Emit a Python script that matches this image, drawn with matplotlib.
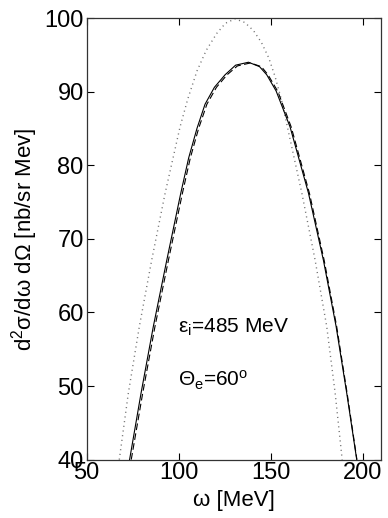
import matplotlib
matplotlib.use("Agg")
import matplotlib.pyplot as plt

plt.rcParams['font.family'] = ['Liberation Sans', 'DejaVu Sans']
plt.rcParams['mathtext.fontset'] = 'custom'
plt.rcParams['mathtext.rm'] = 'Liberation Sans'
plt.rcParams['mathtext.it'] = 'Liberation Sans'

# solid curve
omega_solid = [73.4, 79.6, 86.3, 93.6, 101.2, 105.5, 110.0, 114.4, 119.5, 125.3, 131.0, 138.0,
               144.0, 147.9, 153.0, 160.6, 170.6, 178.7, 185.6, 191.4, 196.8]
xs_solid = [40.0, 49.0, 58.1, 67.1, 76.2, 81.0, 85.0, 88.3, 90.6, 92.3, 93.6, 94.0,
            93.4, 92.3, 90.1, 85.2, 76.2, 67.1, 58.1, 49.0, 40.0]
# dashed curve
omega_dashed = [74.3, 80.5, 87.2, 94.5, 102.1, 106.4, 110.9, 115.4, 120.6, 126.4, 132.0, 139.0,
                145.0, 148.6, 154.0, 161.2, 171.1, 179.1, 185.9, 191.6, 196.9]
xs_dashed = [40.0, 49.0, 58.1, 67.1, 76.2, 81.0, 85.0, 88.3, 90.6, 92.3, 93.5, 93.9,
             93.4, 92.3, 90.0, 85.2, 76.2, 67.1, 58.1, 49.0, 40.0]
# dotted curve
omega_dotted = [67.8, 72.7, 78.7, 85.4, 92.7, 100.8, 105.0, 110.0, 115.0, 120.7, 125.5, 130.7,
                136.0, 140.7, 145.0, 149.0, 152.5, 155.8, 158.8, 162.8, 167.0, 174.2, 180.5,
                185.1, 188.9]
xs_dotted = [40.0, 49.0, 58.1, 67.1, 76.2, 85.2, 89.0, 92.8, 95.6, 97.9, 99.3, 99.9,
             99.4, 98.3, 96.7, 94.6, 92.0, 89.0, 85.6, 81.0, 76.2, 67.1, 58.1,
             49.0, 40.0]

xticks = [50, 100, 150, 200]
yticks = [40, 50, 60, 70, 80, 90, 100]

fig = plt.figure(figsize=(3.88, 5.18), dpi=100)
ax = fig.add_axes([0.223, 0.1127, 0.759, 0.8524])

ax.plot(omega_dotted, xs_dotted, color='0.45', lw=1.0, linestyle=(0, (0.8, 2.6)))
ax.plot(omega_dashed, xs_dashed, color='black', lw=0.8, linestyle=(0, (6, 3)))
ax.plot(omega_solid, xs_solid, color='black', lw=0.8)

ax.set_xlim(50, 210)
ax.set_ylim(40, 100)
ax.set_xticks(xticks)
ax.set_yticks(yticks)
ax.tick_params(direction='in', top=True, right=True, length=5, width=0.8,
               labelsize=17, pad=2)
for s in ax.spines.values():
    s.set_linewidth(0.9)
    s.set_color('0.2')

ax.set_xlabel(r'ω [MeV]', fontsize=16, labelpad=4)
ax.set_ylabel(r'd$^2$σ/dω dΩ [nb/sr Mev]', fontsize=16, labelpad=3)

ax.text(99.8, 58.0, r'ε$_\mathrm{i}$=485 MeV', fontsize=15, va='center', ha='left')
ax.text(99.8, 50.8, r'Θ$_\mathrm{e}$=60$^\mathrm{o}$', fontsize=15, va='center', ha='left')

fig.savefig('out.png', dpi=100)
